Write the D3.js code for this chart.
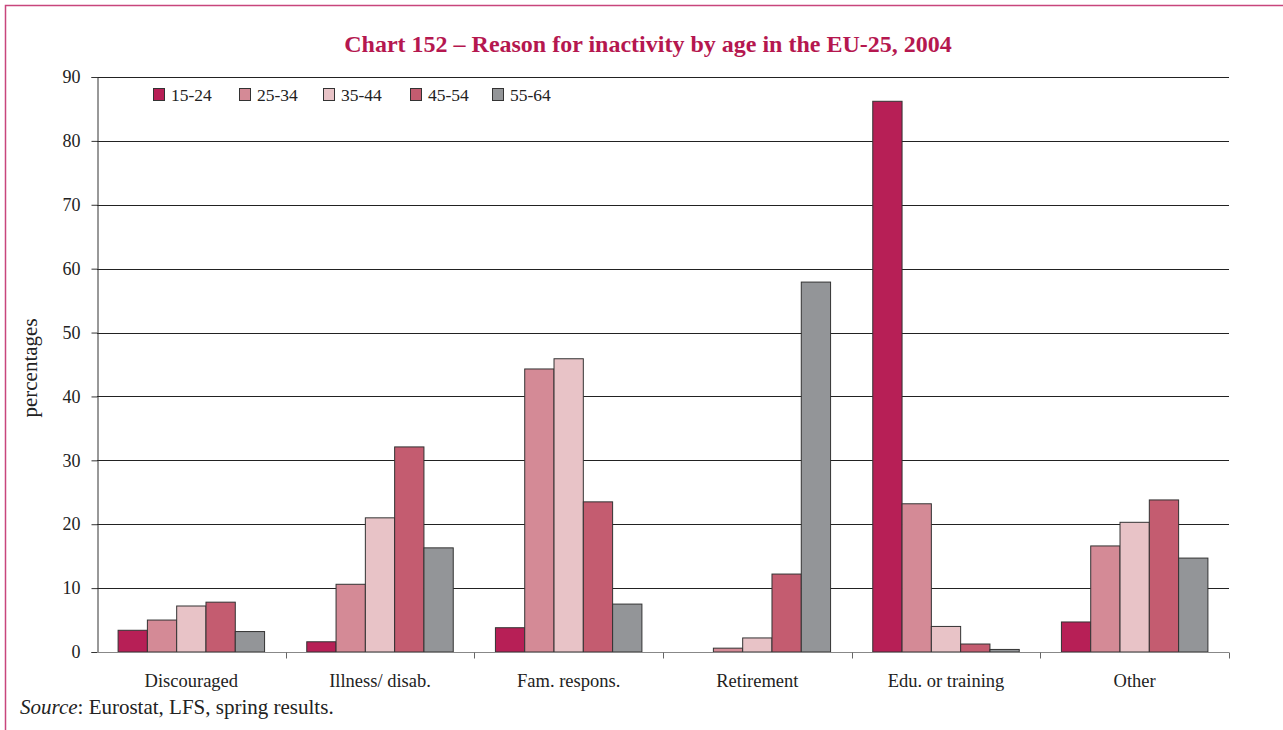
<!DOCTYPE html>
<html><head><meta charset="utf-8">
<script src="https://cdn.jsdelivr.net/npm/d3@7"></script>
<style>body{margin:0;background:#fff;} svg{display:block;}</style>
</head><body>
<script>
const categories = ["Discouraged","Illness/ disab.","Fam. respons.","Retirement","Edu. or training","Other"];
const seriesNames = ["15-24","25-34","35-44","45-54","55-64"];
const s1524 = [3.4, 1.6, 3.8, 0, 86.2, 4.7];
const s2534 = [5.0, 10.6, 44.3, 0.6, 23.2, 16.6];
const s3544 = [7.2, 21.0, 45.9, 2.2, 4.0, 20.3];
const s4554 = [7.8, 32.1, 23.5, 12.2, 1.25, 23.8];
const s5564 = [3.2, 16.3, 7.5, 57.9, 0.4, 14.7];
const yTicks = [0,10,20,30,40,50,60,70,80,90];
const colors = ["#b71f56","#d48a96","#e8c3c7","#c45c70","#939598"];
const series = [s1524,s2534,s3544,s4554,s5564];

const W=1283,H=730;
const svg=d3.select("body").append("svg").attr("width",W).attr("height",H);
const serif="'Liberation Serif','Times New Roman',serif";

// border
svg.append("path").attr("d","M5.5,"+H+" V5.5 H"+W).attr("fill","none").attr("stroke","#c8457c").attr("stroke-width",1.5);

const x0=97,x1=1229,y0=652,y1=77;
const x=d3.scaleBand().domain(categories).range([x0,x1]).paddingInner(0).paddingOuter(0);
const xs=d3.scaleBand().domain(seriesNames).range([0,x.bandwidth()]).paddingOuter(0.72).paddingInner(0);
const y=d3.scaleLinear().domain([0,90]).range([y0,y1]);

// title
svg.append("text").attr("x",648).attr("y",52).attr("text-anchor","middle")
  .attr("font-family",serif).attr("font-weight","bold").attr("font-size",24).attr("fill","#b5174f")
  .text("Chart 152 – Reason for inactivity by age in the EU-25, 2004");

// gridlines
svg.append("g").selectAll("line").data(yTicks.filter(d=>d>0)).join("line")
  .attr("x1",x0).attr("x2",x1).attr("y1",d=>Math.round(y(d))+0.5).attr("y2",d=>Math.round(y(d))+0.5)
  .attr("stroke","#222").attr("stroke-width",1);

// bars
const g=svg.append("g");
categories.forEach((c,ci)=>{
  series.forEach((s,si)=>{
    const v=s[ci];
    if(v<=0) return;
    g.append("rect").attr("x",x(c)+xs(seriesNames[si])).attr("y",y(v))
      .attr("width",xs.bandwidth()).attr("height",y0-y(v))
      .attr("fill",colors[si]).attr("stroke","#333").attr("stroke-width",1);
  });
});

// y axis
const ya=svg.append("g").attr("transform","translate("+(x0+0.5)+",0)")
  .call(d3.axisLeft(y).tickValues(yTicks).tickSize(6).tickPadding(11).tickFormat(d3.format("d")));
ya.select(".domain").attr("stroke","#333");
ya.selectAll(".tick line").attr("stroke","#333");
ya.selectAll("text").attr("font-family",serif).attr("font-size",18).attr("fill","#222");

// x axis
const xa=svg.append("g").attr("transform","translate(0,"+(y0+0.5)+")");
xa.append("line").attr("x1",x0).attr("x2",x1).attr("stroke","#888");
xa.selectAll("line.tk").data(categories.slice(1).concat(["end"])).join("line").attr("class","tk")
  .attr("x1",(d,i)=>Math.round(x0+(i+1)*x.bandwidth())+0.5).attr("x2",(d,i)=>Math.round(x0+(i+1)*x.bandwidth())+0.5)
  .attr("y1",0).attr("y2",6).attr("stroke","#666");
xa.selectAll("text").data(categories).join("text")
  .attr("x",d=>x(d)+x.bandwidth()/2).attr("y",34).attr("text-anchor","middle")
  .attr("font-family",serif).attr("font-size",18.5).attr("fill","#222").text(d=>d);

// y label
svg.append("text").attr("transform","translate(37,368) rotate(-90)").attr("text-anchor","middle")
  .attr("font-family",serif).attr("font-size",21).attr("fill","#222").text("percentages");

// legend
const lx=[153,239,323,410,492];
seriesNames.forEach((n,i)=>{
  svg.append("rect").attr("x",lx[i]+0.5).attr("y",88.5).attr("width",11).attr("height",12)
    .attr("fill",colors[i]).attr("stroke","#333").attr("stroke-width",1);
  svg.append("text").attr("x",lx[i]+18).attr("y",101).attr("font-family",serif).attr("font-size",17.5)
    .attr("fill","#222").text(n);
});

// source
const src=svg.append("text").attr("x",20).attr("y",714).attr("font-family",serif).attr("font-size",21).attr("fill","#222");
src.append("tspan").attr("font-style","italic").text("Source");
src.append("tspan").text(": Eurostat, LFS, spring results.");
</script>
</body></html>
